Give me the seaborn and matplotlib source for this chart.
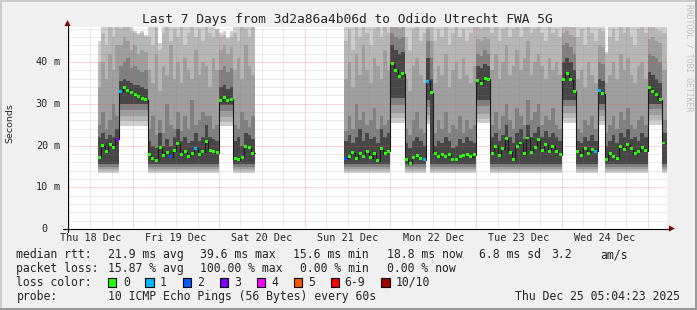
import numpy as np
import pandas as pd
import matplotlib
matplotlib.use("Agg")
import matplotlib.pyplot as plt
import matplotlib.transforms as mtransforms
from matplotlib.lines import Line2D
from matplotlib.patches import Polygon, Rectangle
import seaborn as sns

# ---------------- data ----------------
title = "Last 7 Days from 3d2a86a4b06d to Odido Utrecht FWA 5G"
day_labels = ["Thu 18 Dec", "Fri 19 Dec", "Sat 20 Dec", "Sun 21 Dec",
              "Mon 22 Dec", "Tue 23 Dec", "Wed 24 Dec"]
day_label_hours = [12, 36, 60, 84, 108, 132, 156]   # hours since Thu 18 Dec 00:00
x_range = [5.45, 173.45]
y_range = [0, 48.4]
y_tick_values = [0, 10, 20, 30, 40]
y_tick_units = ["", "m", "m", "m", "m"]

# hourly bins (start hour, since Thu 18 Dec 00:00); gap Sat 20 10:00 - Sun 21 11:00
hours = list(range(14, 58)) + list(range(83, 173))
data_end_hour = 173.45

median = [17.2, 20.0, 18.6, 20.3, 19.6, 21.5,
          33.0, 33.8, 33.2, 32.6, 32.3, 31.8, 31.3, 31.0,
          17.8, 17.0, 16.4, 19.6, 17.6, 18.4, 17.3, 18.7, 20.4, 17.9,
          18.6, 17.4, 18.2, 19.3, 17.8, 18.5, 21.0, 18.8, 18.6, 18.3,
          30.8, 31.5, 30.7, 31.1,
          16.8, 16.6, 17.2, 19.8, 19.6, 18.2,
          16.9, 17.4, 18.3, 16.8, 18.0, 17.4, 18.5, 17.1, 18.2, 16.4, 19.2, 18.0, 18.6,
          39.6, 38.0, 36.6, 37.2,
          16.7, 15.6, 17.1, 17.5, 16.8, 16.6,
          35.4, 32.6,
          18.2, 17.4, 17.8, 17.4, 17.9, 16.6, 16.6, 17.4, 17.5, 17.8, 17.3, 17.8,
          35.6, 34.8, 36.0, 35.9,
          18.2, 19.8, 17.6, 19.2, 21.6, 18.4, 16.6, 19.8, 20.6, 18.0,
          21.8, 18.4, 19.6, 21.4, 18.9, 20.2, 18.6, 19.8, 18.6, 17.8,
          35.9, 37.3, 35.8, 33.0,
          18.6, 17.6, 19.4, 18.2, 19.0, 18.6,
          33.1, 32.4,
          16.6, 18.0, 17.4, 17.0, 19.8, 19.0, 20.2, 19.2, 18.0, 18.6, 19.6, 18.8,
          33.8, 32.9, 32.2, 31.0,
          20.6]

# upper smoke edges (sorted pings 6..10), hourly
p6 = [22, 23, 21.5, 22.5, 22, 24,
      35.5, 36, 35.5, 35, 34.5, 34.5, 34, 33.5,
      21, 20, 19.5, 23, 20, 21.5, 20, 22, 24, 21, 22, 20.5, 21, 23, 21, 22, 25, 22, 21.5, 21,
      34, 34.5, 33.5, 34,
      21, 22, 20, 23, 22.5, 21.5,
      21, 22.5, 20.5, 22, 24, 21, 23, 21.5, 22, 20.5, 24, 22, 23,
      44, 43, 42, 42.5,
      20.5, 19.5, 21, 22, 21, 20,
      41, 36,
      20, 21, 20.5, 22, 21, 19.5, 20, 21.5, 20.5, 22, 21, 20.5,
      39, 38.5, 39.5, 39,
      22, 23, 21, 22.5, 25, 22, 20.5, 23, 24, 21.5, 25, 22, 23, 24.5, 22, 23.5, 22, 23, 22, 21,
      40, 41, 40, 38,
      21, 20.5, 22, 21, 22.5, 21,
      36, 35.5,
      20, 21, 22.5, 20.5, 23, 22, 24, 21.5, 22, 21, 23, 22,
      37.5, 37, 36, 35,
      23]
p7 = [25, 28, 24, 26, 30, 27,
      39, 40, 41, 38.5, 39, 38, 37.5, 38,
      24, 27, 22.5, 26, 23, 30, 25, 24, 28, 23.5, 27, 24, 31, 25, 26, 28, 27, 27, 24, 25,
      38, 39, 37.5, 38.5,
      25, 24, 28, 26, 24.5, 27,
      23.5, 27, 24, 30, 26, 28, 25, 26, 29, 24, 27, 25, 26,
      47, 46, 45.5, 46,
      24, 22.5, 26, 28, 24, 23,
      45, 41,
      23, 26, 24, 28, 23, 25, 24, 27, 23, 26, 24, 25,
      42, 41.5, 43, 42,
      25, 28, 24, 27, 30, 26, 24, 29, 27, 25, 31, 26, 28, 30, 25, 27, 26, 29, 25, 24,
      44, 44.5, 43.5, 42,
      24, 23, 26, 25, 27, 24,
      40, 39.5,
      23, 25, 27, 24, 28, 26, 29, 25, 24, 26, 27, 25,
      42, 41.5, 41, 40,
      26]
p8 = [34, 40, 36, 42, 38, 44,
      44, 46, 45, 43, 44, 42, 43, 42.5,
      38, 35, 42, 33, 39, 37, 44, 36, 40, 35, 41, 38, 36, 43, 37, 40, 39, 34, 41, 38,
      43, 44, 42, 43.5,
      38, 41, 36, 44, 39, 37,
      36, 40, 34, 42, 37, 44, 38, 35, 41, 39, 36, 43, 38,
      49, 48.5, 48, 48.5,
      36, 33, 39, 41, 37, 35,
      48, 45,
      35, 39, 37, 42, 34, 38, 40, 36, 41, 37, 35, 39,
      45.5, 45, 46, 45.5,
      38, 42, 36, 40, 44, 37, 39, 43, 38, 41, 45, 37, 40, 42, 39, 36, 41, 38, 40, 37,
      47, 47.5, 46.5, 46,
      36, 38, 34, 40, 37, 35,
      44, 43.5,
      35, 37, 40, 36, 42, 38, 41, 37, 35, 39, 40, 36,
      45.5, 46, 45, 44.5,
      38]
p9 = [40, 47, 44, 49, 46, 50,
      48, 50, 49, 47.5, 47, 46.5, 47, 46,
      46, 44, 49, 43, 47, 50, 45, 48, 46, 49, 44, 47, 50, 46, 48, 45, 49, 47, 46, 48,
      46, 46.5, 45.5, 46,
      47, 45, 49, 48, 46, 50,
      45, 48, 43, 50, 46, 49, 47, 44, 48, 50, 46, 49, 47,
      52, 52, 52, 52,
      46, 43, 48, 49, 45, 47,
      52, 49,
      45, 48, 46, 50, 44, 47, 49, 46, 48, 45, 47, 49,
      48.5, 48, 49, 48.5,
      47, 49, 45, 48, 50, 46, 48, 51, 46, 49, 50, 47, 48, 50, 47, 45, 49, 47, 48, 46,
      52, 52, 52, 52,
      46, 48, 44, 49, 47, 45,
      48, 47.5,
      42, 46, 48, 45, 50, 47, 49, 46, 44, 48, 49, 47,
      48.5, 49, 48, 47.5,
      47]
p10 = [45, 52, 52, 52, 52, 52,
       52, 52, 52, 52, 47.5, 47, 47.5, 46.5,
       52, 52, 52, 44.5, 52, 52, 52, 52, 52, 52, 52, 52, 52, 52, 52, 52, 52, 52, 52, 48,
       47, 47.5, 46, 47.5,
       52, 52, 52, 52, 52, 52,
       52, 52, 52, 52, 52, 52, 52, 52, 52, 52, 52, 52, 52,
       52, 52, 52, 52,
       52, 52, 52, 52, 52, 52,
       52, 52,
       52, 52, 52, 52, 52, 52, 52, 52, 52, 52, 52, 52,
       52, 52, 52, 52,
       52, 52, 52, 52, 52, 52, 52, 52, 52, 52, 52, 52, 52, 52, 52, 52, 52, 52, 52, 52,
       52, 52, 52, 52,
       52, 52, 52, 52, 52, 52,
       52, 52,
       42.5, 52, 52, 52, 52, 52, 52, 52, 52, 52, 52, 52,
       52, 52, 52, 52,
       52]

# lower smoke edges (sorted pings 1..5), per period
seg_start = [14, 20, 28, 48, 52, 83, 96, 100, 106, 107, 120, 124, 144, 148, 154, 156, 168, 172]
seg_p1 = [13.5, 24.6, 13.5, 24.6, 13.5, 13.5, 25.5, 13.5, 25.2, 13.5, 25.3, 13.5, 25.4, 13.5, 24.8, 13.5, 25.0, 13.5]
seg_p2 = [13.9, 25.8, 13.9, 25.7, 13.9, 13.9, 26.6, 13.9, 26.2, 13.9, 26.4, 13.9, 26.5, 13.9, 25.8, 13.9, 26.0, 13.9]
seg_p3 = [14.3, 27.0, 14.3, 26.8, 14.3, 14.3, 27.8, 14.3, 27.4, 14.3, 27.6, 14.3, 27.7, 14.3, 27.0, 14.3, 27.2, 14.3]
seg_p4 = [14.9, 28.6, 14.9, 28.3, 14.9, 14.9, 29.6, 14.9, 29.2, 14.9, 29.4, 14.9, 29.5, 14.9, 28.6, 14.9, 28.8, 14.9]
seg_p5 = [15.5, 30.0, 15.5, 29.6, 15.5, 15.5, 31.5, 15.5, 31.0, 15.5, 30.8, 15.5, 30.8, 15.5, 30.0, 15.5, 29.9, 15.5]

loss_hours = [19, 20, 34, 41, 83, 105, 106, 153, 154]
loss_values = [3, 1, 2, 1, 2, 1, 1, 1, 1]

loss_legend_labels = ["0", "1", "2", "3", "4", "5", "6-9", "10/10"]
loss_legend_colors = ["#26ff00", "#00b8ff", "#0059ff", "#7e00ff", "#ff00ff", "#ff5500", "#ff0000", "#a10000"]
loss_palette = {0: "#26ff00", 1: "#00b8ff", 2: "#0059ff", 3: "#7e00ff"}

row1_texts = ["median rtt:", "21.9 ms avg", "39.6 ms max", "15.6 ms min", "18.8 ms now", "6.8 ms sd", "3.2", "am/s"]
row2_texts = ["packet loss:", "15.87 % avg", "100.00 % max", "0.00 % min", "0.00 % now"]
row4_texts = ["probe:", "10 ICMP Echo Pings (56 Bytes) every 60s"]
timestamp = "Thu Dec 25 05:04:23 2025"

# ---------------- build table ----------------
df = pd.DataFrame({"hour": hours, "median": median,
                   "p6": p6, "p7": p7, "p8": p8, "p9": p9, "p10": p10})
seg_idx = np.searchsorted(seg_start, df["hour"].values, side="right") - 1
for name, arr in [("p1", seg_p1), ("p2", seg_p2), ("p3", seg_p3), ("p4", seg_p4), ("p5", seg_p5)]:
    df[name] = np.asarray(arr)[seg_idx]
df["loss"] = 0
for h, v in zip(loss_hours, loss_values):
    df.loc[df["hour"] == h, "loss"] = v
df["mid"] = df["hour"] + 0.5

# contiguous runs
breaks = np.where(np.diff(df["hour"].values) > 1)[0] + 1
run_bounds = np.split(np.arange(len(df)), breaks)

# ---------------- figure ----------------
sns.set_style("white")
plt.rcParams["font.family"] = ["DejaVu Sans Mono", "DejaVu Sans"]

W, H = 697, 310
fig = plt.figure(figsize=(W / 100, H / 100), dpi=100, facecolor="#f0f0f0")


def fx(x):
    return x / W


def fy(y):
    return 1 - y / H


ax = fig.add_axes([fx(67), fy(229), 600 / W, 202 / H])
ax.set_facecolor("white")
ax.set_xlim(*x_range)
ax.set_ylim(*y_range)
for s in ax.spines.values():
    s.set_visible(False)
ax.set_xticks([])
ax.set_yticks([])

# smoke
band_pairs = [("p1", "p10", "#cecece"), ("p2", "p9", "#b6b6b6"), ("p3", "p8", "#9e9e9e"),
              ("p4", "p7", "#808080"), ("p5", "p6", "#474747")]
for run in run_bounds:
    sub = df.iloc[run]
    last_h = sub["hour"].values[-1]
    end = last_h + 1 if last_h + 1 < data_end_hour - 0.5 else data_end_hour
    xs = np.append(sub["hour"].values, end)
    for lo, hi, col in band_pairs:
        ylo = np.append(sub[lo].values, sub[lo].values[-1])
        yhi = np.append(sub[hi].values, sub[hi].values[-1])
        ax.fill_between(xs, ylo, yhi, step="post", color=col, lw=0, zorder=1)
    ym = np.append(sub["median"].values, sub["median"].values[-1])
    ax.step(xs, ym, where="post", color="#1a1a1a", lw=0.8, zorder=3)

# grid
red_grid = (1.0, 0.3, 0.3, 0.45)
gray_grid = (0.5, 0.5, 0.5, 0.3)
for h in range(6, 174, 6):
    ax.axvline(h, color=red_grid if h % 24 == 0 else gray_grid,
               lw=0.72, ls=(0, (1, 1)), zorder=2, snap=True)
for v in range(2, 49, 2):
    ax.axhline(v, color=red_grid if v % 10 == 0 else gray_grid,
               lw=0.72, ls=(0, (1, 1)), zorder=2, snap=True)

# medians
sns.scatterplot(data=df, x="mid", y="median", hue="loss", palette=loss_palette,
                marker="s", s=4.5, linewidth=0, legend=False, ax=ax, zorder=5)
ax.set_xlabel("")
ax.set_ylabel("")

# axes lines and arrows
fig.add_artist(Line2D([fx(63), fx(670)], [fy(228.5), fy(228.5)], color="black", lw=0.8))
fig.add_artist(Line2D([fx(67.5), fx(67.5)], [fy(232), fy(25)], color="black", lw=0.8))
fig.add_artist(Polygon([[fx(669), fy(225.5)], [fx(675), fy(228.5)], [fx(669), fy(231.5)]],
                       closed=True, color="#8b0000", lw=0))
fig.add_artist(Polygon([[fx(64.5), fy(26)], [fx(67.5), fy(20)], [fx(70.5), fy(26)]],
                       closed=True, color="#8b0000", lw=0))

# tick labels
xlab_tr = mtransforms.blended_transform_factory(ax.transData, fig.transFigure)
for h, lab in zip(day_label_hours, day_labels):
    ax.text(h, fy(233), lab, transform=xlab_tr, ha="center", va="top", fontsize=7.3)
ylab_tr = mtransforms.blended_transform_factory(fig.transFigure, ax.transData)
for v, u in zip(y_tick_values, y_tick_units):
    ax.text(fx(48), v, f"{v}", transform=ylab_tr, ha="right", va="center", fontsize=7.3)
    if u:
        ax.text(fx(54), v, u, transform=ylab_tr, ha="left", va="center", fontsize=7.3)

fig.text(fx(10), fy(123.5), "Seconds", rotation=90, ha="center", va="center",
         fontsize=6.8, family="DejaVu Sans")
fig.text(fx(347.5), fy(23.3), title, ha="center", va="baseline", fontsize=9.3)
fig.text(fx(688.5), fy(4), "RRDTOOL / TOBI OETIKER", rotation=-90, ha="center", va="top",
         fontsize=5.8, color="#c0c0c0")

# legend rows
LF = 8.3
row1_x = [16.4, 107.6, 200.4, 293.3, 386.7, 479, 551, 600]
for t, x in zip(row1_texts, row1_x):
    fig.text(fx(x), fy(258.2), t, ha="left", va="baseline", fontsize=LF)
row2_x = [16.4, 107.6, 200.4, 300, 386.7]
for t, x in zip(row2_texts, row2_x):
    fig.text(fx(x), fy(272), t, ha="left", va="baseline", fontsize=LF)
fig.text(fx(16.4), fy(285.8), "loss color:", ha="left", va="baseline", fontsize=LF)
box_x = [108, 145.3, 182.7, 219.6, 257, 294, 330.7, 381.3]
lab_x = [123.6, 160, 197, 234, 271, 308, 344.4, 395.6]
for lab, col, bx, lx in zip(loss_legend_labels, loss_legend_colors, box_x, lab_x):
    fig.add_artist(Rectangle((fx(bx), fy(286.5)), 8.4 / W, 9.0 / H, facecolor=col,
                             edgecolor="black", lw=0.8, transform=fig.transFigure))
    fig.text(fx(lx), fy(285.8), lab, ha="left", va="baseline", fontsize=LF)
row4_x = [16.4, 107.6]
for t, x in zip(row4_texts, row4_x):
    fig.text(fx(x), fy(299.6), t, ha="left", va="baseline", fontsize=LF)
fig.text(fx(680), fy(299.6), timestamp, ha="right", va="baseline", fontsize=LF)

# frame
fig.add_artist(Rectangle((0, fy(1.5)), 1, 1.5 / H, color="#cbcbcb", lw=0, transform=fig.transFigure))
fig.add_artist(Rectangle((0, 0), 1.5 / W, 1, color="#cbcbcb", lw=0, transform=fig.transFigure))
fig.add_artist(Rectangle((0, 0), 1, 2 / H, color="#999999", lw=0, transform=fig.transFigure))
fig.add_artist(Rectangle((fx(695), 0), 2 / W, 1, color="#999999", lw=0, transform=fig.transFigure))

fig.savefig("out.png", dpi=100, facecolor=fig.get_facecolor())
